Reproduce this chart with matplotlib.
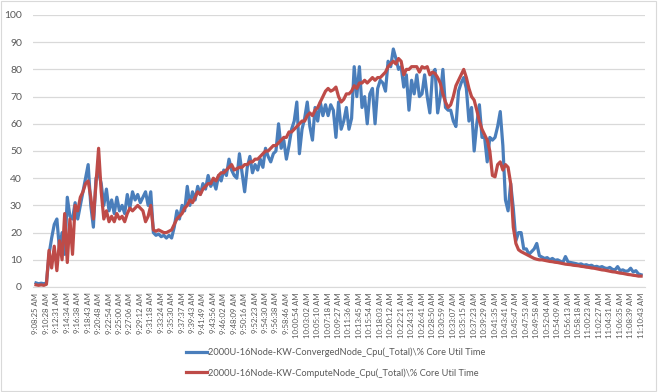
import matplotlib
matplotlib.use("Agg")
import matplotlib.pyplot as plt
from matplotlib.patches import Rectangle

tick_labels = [
    "9:08:25 AM", "9:10:28 AM", "9:12:31 AM", "9:14:34 AM", "9:16:38 AM", "9:18:43 AM",
    "9:20:48 AM", "9:22:54 AM", "9:25:00 AM", "9:27:06 AM", "9:29:12 AM", "9:31:18 AM",
    "9:33:24 AM", "9:35:30 AM", "9:37:37 AM", "9:39:43 AM", "9:41:49 AM", "9:43:56 AM",
    "9:46:02 AM", "9:48:09 AM", "9:50:16 AM", "9:52:23 AM", "9:54:30 AM", "9:56:38 AM",
    "9:58:46 AM", "10:00:54 AM", "10:03:02 AM", "10:05:10 AM", "10:07:18 AM", "10:09:27 AM",
    "10:11:36 AM", "10:13:45 AM", "10:15:54 AM", "10:18:03 AM", "10:20:12 AM", "10:22:21 AM",
    "10:24:31 AM", "10:26:41 AM", "10:28:50 AM", "10:30:59 AM", "10:33:07 AM", "10:35:15 AM",
    "10:37:23 AM", "10:39:29 AM", "10:41:35 AM", "10:43:41 AM", "10:45:47 AM", "10:47:53 AM",
    "10:49:58 AM", "10:52:04 AM", "10:54:09 AM", "10:56:13 AM", "10:58:18 AM", "11:00:23 AM",
    "11:02:27 AM", "11:04:31 AM", "11:06:35 AM", "11:08:39 AM", "11:10:43 AM",
]

converged = [
    1.5, 1.2, 1.4, 1.2, 1.5, 12, 18, 23, 25, 14, 20, 12, 33, 26, 25, 31, 25, 30, 35, 40,
    45, 30, 22, 40, 42, 38, 30, 36, 28, 32, 27, 33, 28, 30, 27, 34, 29, 35, 32, 34,
    31, 33, 35, 30, 35, 20, 19, 19.5, 18.5, 19, 18, 19, 18, 22, 28, 25, 30, 28, 37, 30,
    35, 32, 37, 34, 38, 36, 41, 37, 39, 36, 41, 39, 43, 41, 47, 43, 41, 40, 49, 42,
    35, 44, 48, 42, 45, 43, 47, 44, 51, 48, 46, 49, 50, 60, 51, 54, 47, 52, 58, 61,
    68, 49, 58, 62, 68, 59, 54, 66, 61, 68, 63, 67, 63, 67, 65, 55, 68, 58, 61, 66,
    58, 62, 81, 70, 81, 66, 70, 60, 71, 73, 60, 73, 76, 75, 72, 83, 81, 87.5, 84, 80,
    81, 73.5, 78, 65, 76, 71, 78, 70, 71, 78, 70, 64, 78, 80, 64, 70, 80, 66, 65, 65,
    61, 59, 72, 75, 77, 73, 61, 66, 50, 60, 67, 55, 55, 46, 55, 54, 55, 59, 64.5, 52,
    32, 28, 38, 29, 17, 20, 20, 14, 14, 12, 13, 14, 16, 11.5, 11, 10.5, 10.8, 10, 10.5, 9.8,
    10, 9.5, 9.0, 11.2, 9.2, 9.0, 8.8, 8.6, 8.3, 8.5, 8.0, 8.2, 7.8, 8.0, 7.4, 7.6, 7.2, 7.5, 7.0, 6.8,
    7.2, 6.5, 6.3, 7.5, 6.0, 6.3, 5.8, 5.9, 6.9, 5.5, 6.0, 4.8, 4.5,
]

compute = [
    0.8, 0.6, 0.8, 0.6, 1.0, 13.5, 7, 15, 6, 17, 10, 27, 9, 25, 12, 30, 28, 33, 35, 38,
    39, 33, 25, 38, 51, 35, 25, 28, 24, 26, 24, 27, 25, 26, 24, 27, 29, 28, 29, 30,
    29, 28, 24, 26, 30, 21, 20.5, 21, 20.5, 20, 20, 20.5, 21, 23, 25, 26, 27, 29, 30, 32,
    31, 33, 35, 34, 36, 37, 38, 38, 40, 39, 41, 42, 42, 43, 44, 45, 43, 43.5, 44, 44,
    45, 45, 46, 46, 47, 47, 48, 49, 50, 50, 51, 52, 52, 53, 54, 55, 55, 57, 57, 58,
    59, 60, 61, 61, 63, 64, 63, 65, 66, 68, 70, 72, 73, 72, 72.5, 73.5, 70, 68, 69, 71,
    71, 72, 74, 73, 75, 75, 76, 75, 76, 77, 76, 77, 77, 78, 79, 81, 82, 83, 82, 84,
    83, 78, 80, 80, 81, 81, 81, 79, 81, 80.5, 81, 78, 79, 78.5, 77, 75, 71, 68, 66, 67,
    70, 74, 76, 78, 80, 77, 73, 70, 68.7, 65, 61, 58, 56, 54, 50, 41, 40.5, 45, 46, 43,
    45, 44, 38, 22, 16, 13.7, 13, 12.5, 12, 11.5, 11, 10.5, 10.2, 10, 10, 9.8, 9.6, 9.4, 9.3, 9.1,
    9, 8.8, 8.6, 8.4, 8.3, 8.2, 8.0, 7.9, 7.8, 7.6, 7.5, 7.3, 7.2, 7.0, 6.9, 6.7, 6.5, 6.3, 6.2, 6.0,
    5.8, 5.6, 5.5, 5.3, 5.1, 5.0, 4.8, 4.6, 4.5, 4.3, 4.2, 4.0, 4.0,
]

series_names = [
    "2000U-16Node-KW-ConvergedNode_Cpu(_Total)\\% Core Util Time",
    "2000U-16Node-KW-ComputeNode_Cpu(_Total)\\% Core Util Time",
]

plt.rcParams['font.family'] = ['Lato', 'DejaVu Sans']
text_color = "#595959"

fig = plt.figure(figsize=(6.58, 3.92), dpi=100)
fig.patches.append(Rectangle((0.002, 0.003), 0.995, 0.994, transform=fig.transFigure,
                             fill=False, edgecolor="#d9d9d9", linewidth=0.8))
ax = fig.add_axes([33 / 658, 1 - 287 / 392, (645 - 33) / 658, 272 / 392])

n = len(converged)
x = list(range(n))
step = (n - 1) // (len(tick_labels) - 1)

ax.plot(x, converged, color="#4A7EBB", linewidth=2.3, label=series_names[0], solid_joinstyle="round")
ax.plot(x[:len(compute)], compute, color="#BE4B48", linewidth=2.3, label=series_names[1], solid_joinstyle="round")

ax.set_ylim(0, 100)
ax.set_xlim(-1.15, n - 1 + 1.5)
ax.set_yticks(range(0, 101, 10))
ax.set_xticks(list(range(0, n, step))[:len(tick_labels)])
ax.set_xticklabels(tick_labels, rotation=90, fontsize=5.6, color=text_color)
ax.tick_params(axis='y', labelsize=7.5, labelcolor=text_color, length=0, pad=8)
ax.tick_params(axis='x', length=0, pad=4)
ax.grid(axis='y', color="#d9d9d9", linewidth=0.9)
ax.set_axisbelow(True)
for s in ax.spines.values():
    s.set_visible(False)
ax.spines['bottom'].set_visible(True)
ax.spines['bottom'].set_color("#d9d9d9")

leg = fig.legend(loc="center", bbox_to_anchor=(0.51, 0.075), ncol=1, frameon=False,
                 fontsize=6.7, handlelength=2.2, labelspacing=1.2, handletextpad=0.1)
for t in leg.get_texts():
    t.set_color(text_color)

fig.savefig("out.png", dpi=100)
